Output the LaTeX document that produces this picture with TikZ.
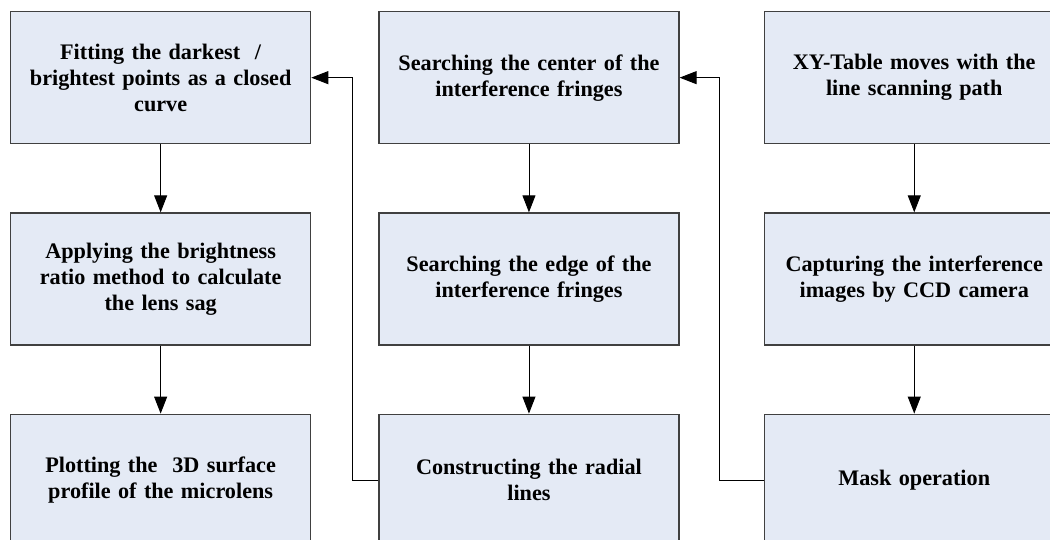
\documentclass[tikz,border=0pt]{standalone}
\usepackage{fontspec}
\setmainfont{Liberation Serif}
\usetikzlibrary{positioning,arrows.meta}
\definecolor{boxblue}{RGB}{228,234,245}

\begin{document}
\begin{tikzpicture}[x=1pt, y=1pt, node distance=68pt and 67pt,
  box/.style={rectangle, draw=black!75, line width=1.3pt, fill=boxblue,
    minimum width=300pt, minimum height=132pt, text width=294pt,
    align=center, inner sep=0pt, font=\bfseries\fontsize{22.2}{26}\selectfont},
  arr/.style={-{Triangle[length=17pt,width=13pt]}, line width=0.9pt}]
  \useasboundingbox (0,0) rectangle (1050,-539);
  % left column
  \node (fitting) [box, anchor=north west] at (10,-11) {Fitting the darkest~ /\\ brightest points as a closed\\ curve};
  \node (ratio) [box, below=of fitting] {Applying the brightness\\ ratio method to calculate\\ the lens sag};
  \node (plot) [box, below=of ratio] {Plotting the~ 3D surface\\ profile of the microlens};
  % middle column
  \node (searchc) [box, right=of fitting] {Searching the center of the\\ interference fringes};
  \node (searche) [box, below=of searchc] {Searching the edge of the\\ interference fringes};
  \node (radial) [box, below=of searche] {Constructing the radial\\ lines};
  % right column
  \node (xytable) [box, right=84pt of searchc] {XY-Table moves with the\\ line scanning path};
  \node (capture) [box, below=of xytable] {Capturing the interference\\ images by CCD camera};
  \node (mask) [box, below=of capture] {Mask operation};
  \draw[arr] (xytable) -- (capture);
  \draw[arr] (capture) -- (mask);
  \draw[arr] (mask.west) -- ++(-44,0) |- (searchc.east);
  \draw[arr] (searchc) -- (searche);
  \draw[arr] (searche) -- (radial);
  \draw[arr] (radial.west) -- ++(-26,0) |- (fitting.east);
  \draw[arr] (fitting) -- (ratio);
  \draw[arr] (ratio) -- (plot);
\end{tikzpicture}
\end{document}
